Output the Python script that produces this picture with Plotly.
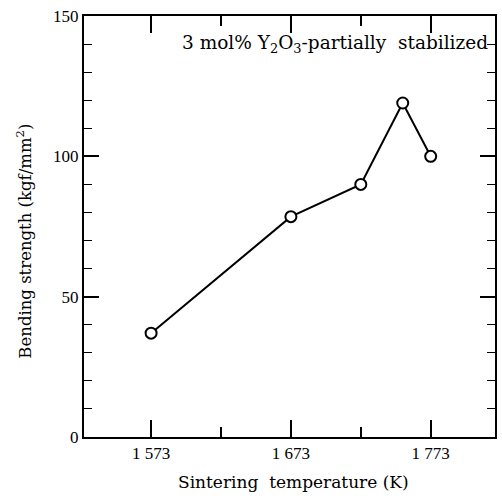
import plotly.graph_objects as go

temperature_K = [1573, 1673, 1723, 1753, 1773]
bending_strength = [37, 78.5, 90, 119, 100]

x_tick_vals = [1573, 1673, 1773]
x_tick_text = ["1 573", "1 673", "1 773"]
x_minor_vals = [1623, 1723]
y_tick_vals = [0, 50, 100, 150]

TEXT_FONT = "DejaVu Serif"
TICK_FONT = "Liberation Serif"

fig = go.Figure()
fig.add_trace(go.Scatter(
    x=temperature_K, y=bending_strength, mode="lines+markers",
    line=dict(color="black", width=2),
    marker=dict(symbol="circle", size=11, color="white",
                line=dict(color="black", width=2)),
    showlegend=False, cliponaxis=False,
))

fig.update_layout(
    width=502, height=496,
    margin=dict(l=84, r=5, t=16, b=59),
    plot_bgcolor="white", paper_bgcolor="white",
    font=dict(family=TEXT_FONT, color="black", size=14),
    xaxis=dict(
        range=[1525, 1819], showgrid=False, zeroline=False,
        showline=True, linecolor="black", linewidth=2, mirror="ticks",
        ticks="inside", ticklen=17, tickwidth=1.6, tickcolor="black",
        tickvals=x_tick_vals, ticktext=x_tick_text,
        minor=dict(tickvals=x_minor_vals, ticks="inside", ticklen=10,
                   tickwidth=1.6, tickcolor="black"),
        tickfont=dict(size=17, family=TICK_FONT),
    ),
    yaxis=dict(
        range=[0, 150], showgrid=False, zeroline=False,
        showline=True, linecolor="black", linewidth=2, mirror="ticks",
        ticks="inside", ticklen=15, tickwidth=1.6, tickcolor="black",
        tickvals=y_tick_vals,
        minor=dict(dtick=10, ticks="inside", ticklen=8,
                   tickwidth=1.3, tickcolor="black"),
        tickfont=dict(size=17, family=TICK_FONT),
    ),
    annotations=[
        dict(text="3 mol% Y<sub>2</sub>O<sub>3</sub>-partially  stabilized",
             xref="paper", yref="y", x=0.988, y=140, xanchor="right",
             yanchor="middle", showarrow=False, font=dict(size=18.5, family=TEXT_FONT)),
        dict(text="Sintering  temperature (K)", xref="paper", yref="paper",
             x=0.51, y=-0.107, xanchor="center", yanchor="middle",
             showarrow=False, font=dict(size=17, family=TEXT_FONT)),
        dict(text="Bending strength (kgf/mm<sup>2</sup>)", xref="paper",
             yref="paper", x=-0.145, y=0.465, xanchor="center", yanchor="middle",
             textangle=-90, showarrow=False, font=dict(size=16.5, family=TEXT_FONT)),
    ],
)

fig.write_html("out.html", config={"displayModeBar": False},
               post_script="document.body.style.margin='0';")
